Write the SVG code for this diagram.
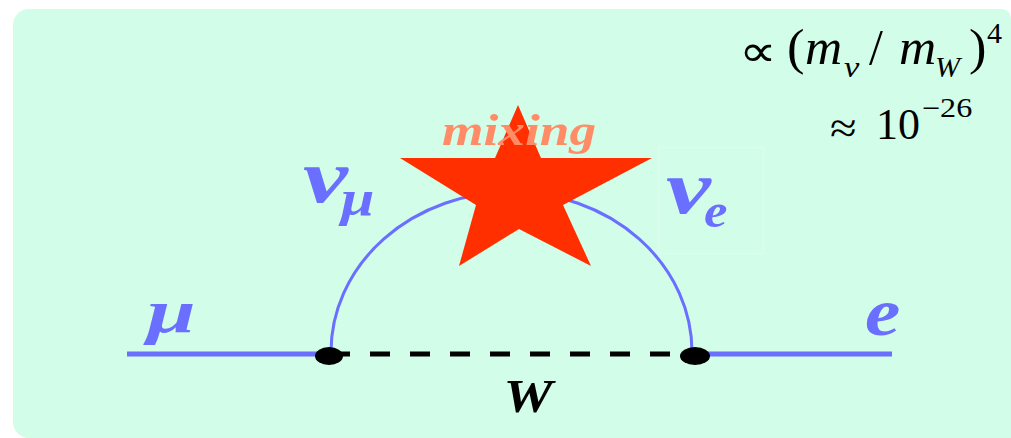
<svg xmlns="http://www.w3.org/2000/svg" width="1011" height="438" viewBox="0 0 1011 438" font-family="'Liberation Serif', serif">
<defs>
<style>
.blue{fill:#6a6fff;font-style:italic;font-weight:bold}
.i{font-style:italic}
.wire{fill:none;stroke:#6a6fff}
</style>
</defs>
<path id="panel" d="M13 25A16 16 0 0 1 29 9H1000Q1011 9 1011 20V438H29A16 16 0 0 1 13 422Z" fill="#d2fde8"/>
<rect id="ve-box" x="658.500" y="147.500" width="105" height="106" fill="none" stroke="#dafdf0" stroke-width="1.500"/>
<g id="connectors">
<line class="wire" x1="127" y1="354" x2="320" y2="354" stroke-width="5"/>
<line class="wire" x1="705" y1="354" x2="892" y2="354" stroke-width="5"/>
<path class="wire" d="M331 352A180.500 160 0 0 1 692 352" stroke-width="3"/>
<line x1="330" y1="354" x2="690" y2="354" stroke="#000" stroke-width="5" stroke-dasharray="20 20"/>
</g>
<g id="node-left"><ellipse cx="329" cy="356" rx="14" ry="9"/></g>
<g id="node-right"><ellipse cx="695" cy="356" rx="15" ry="9"/></g>
<g id="mixing">
<polygon points="518,105 495,158 400,158 476,205 459,266 519,229 591,266 563,205 652,158 541,158" fill="#ff2f00"/>
<text transform="translate(442 145) scale(1.186 1)" font-style="italic" font-weight="bold" font-size="45" fill="#ff8c66">mixing</text>
</g>
<g id="label-mu"><text class="blue" transform="translate(147 332) scale(1.41 1)" font-size="62">μ</text></g>
<g id="label-e"><text class="blue" transform="translate(865 335) scale(1.17 1)" font-size="68">e</text></g>
<g id="label-W"><text transform="translate(503.500 412) scale(1.2 1)" font-style="italic" font-weight="bold" font-size="46" fill="#000">W</text></g>
<g id="label-numu"><text class="blue" transform="translate(303 202) scale(1.33 1)" font-size="76">ν</text><text class="blue" transform="translate(341 215) scale(1.2 1)" font-size="50">μ</text></g>
<g id="label-nue"><text class="blue" transform="translate(666 213) scale(1.33 1)" font-size="76">ν</text><text class="blue" transform="translate(704 227) scale(1.1 1)" font-size="48">e</text></g>
<g id="formula-1">
<text transform="translate(739 66) scale(1.2 1)" font-size="44">∝</text>
<text transform="translate(787 64) scale(1.05 1)" font-size="50">(</text>
<text class="i" transform="translate(805 64) scale(1.03 1)" font-size="50">m</text>
<text class="i" transform="translate(844 77) scale(1.15 1)" font-size="30">ν</text>
<text x="869" y="64" font-size="50">/</text>
<text class="i" transform="translate(899 64) scale(1.03 1)" font-size="50">m</text>
<text class="i" x="935" y="77" font-size="30">W</text>
<text transform="translate(969 64) scale(1.05 1)" font-size="50">)</text>
<text x="987" y="43" font-size="30">4</text>
</g>
<g id="formula-2">
<text transform="translate(830 143) scale(1.1 1)" font-size="44">≈</text>
<text x="876" y="139" font-size="44">10</text>
<text transform="translate(922 117) scale(1.19 1)" font-size="27">−26</text>
</g>
</svg>
